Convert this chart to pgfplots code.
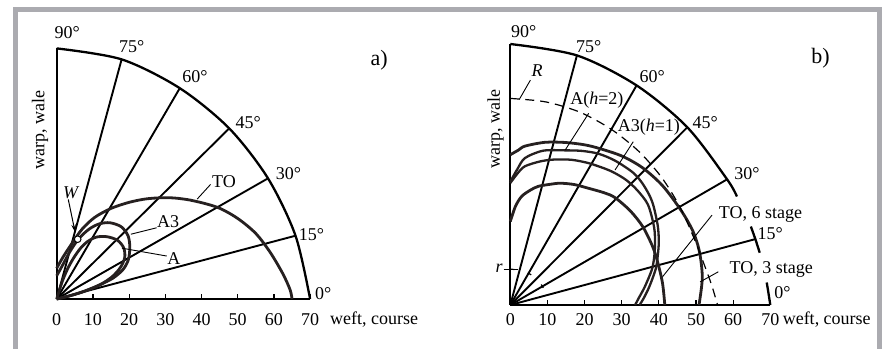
\documentclass[border=0pt]{standalone}
\usepackage{fontspec}
\setmainfont{Liberation Serif}
\usepackage{pgfplots}
\pgfplotsset{compat=1.18}
\usetikzlibrary{arrows.meta}
\definecolor{crv}{RGB}{38,32,32}
\definecolor{frm}{RGB}{171,171,176}
\newcommand\lbl{\fontsize{18bp}{21bp}\selectfont}
\newcommand\panlbl{\fontsize{22bp}{25bp}\selectfont}
\pgfplotsset{
  panel/.style={
    scale only axis, clip=false,
    xmin=0, xmax=70, ymin=0, ymax=70,
    axis lines=left,
    axis line style={-, line width=2bp, black},
    xtick={0,10,...,70}, ytick=\empty,
    tick align=inside, major tick length=5bp,
    x tick style={line width=1.2bp, black},
    xticklabel style={font=\lbl, anchor=base},
    /pgf/number format/assume math mode=true,
  },
  ray/.style={black, line width=1.9bp, no markers, data cs=polar},
  outerarc/.style={black, line width=2.3bp, no markers, smooth, data cs=polar},
  crvline/.style={crv, line width=2.8bp, no markers, smooth},
  lead/.style={black, line width=0.9bp, no markers},
  dsh/.style={black, line width=1.2bp, no markers, smooth, data cs=polar},
}
\begin{document}
\begin{tikzpicture}
\path[use as bounding box] (0,0) rectangle (884bp,349bp);
% ---------------- panel a ----------------
\begin{axis}[panel, at={(56.7bp,50bp)}, anchor=south west,
  width=253.4bp, height=250.6bp, xticklabel style={yshift=-26bp}]
\addplot[ray] coordinates {(15,0) (15,68.3)};
\addplot[ray] coordinates {(30,0) (30,67.4)};
\addplot[ray] coordinates {(45,0) (45,67.4)};
\addplot[ray] coordinates {(60,0) (60,68)};
\addplot[ray] coordinates {(75,0) (75,69.3)};
\addplot[outerarc] coordinates {(0,70) (15,68.3) (30,67.4) (45,67.4) (60,68) (75,69.3) (90,70)};
% TO
\addplot[crvline] coordinates {(0,8.6) (1.8,11.8) (4.2,15.5) (7,19.5) (10.5,22.8) (15,25.3) (20,27) (25,28) (31,28.3) (37,27.6) (44.4,25.6) (50,22.5) (55,18.3) (59,13) (62.5,7) (64.5,2.5) (65,0)};
% A3
\addplot[crvline] coordinates {(0,0) (4,1) (8,2.3) (12,4) (15.5,5.8) (18.3,8.2) (19.8,11) (20.2,14.5) (19.7,17.7) (17.8,20.2) (14.7,21.3) (11.8,21) (9.2,19.7) (7,17.8) (5.3,15.8) (3.4,12.8) (1.6,9.4) (0,6.5)};
% A
\addplot[crvline] coordinates {(0,0) (4,1) (8,2.3) (12,4) (15.3,6.2) (17.6,8.8) (18.8,11.6) (18.5,14.3) (16.8,16.4) (13.9,17.4) (11,17.3) (8.6,16.1) (6.6,14.2) (4.7,11.5) (3,8.4) (1.5,4.8) (0,0)};
\addplot[lead] coordinates {(42.5,32.0) (38.8,27.9)};
\addplot[lead] coordinates {(27.6,19.9) (20.5,18.1)};
\addplot[lead] coordinates {(30.4,12.0) (18.0,14.2)};
\addplot[black, line width=1bp, no markers, -{Stealth[length=8bp,width=4.5bp]}] coordinates {(3.2,27.8) (5.1,18.6)};
\addplot[only marks, mark=*, mark size=3.3bp, mark options={fill=white, draw=black, line width=1bp}] coordinates {(5.8,16.7)};
\node[font=\lbl] at (axis cs:2.9,74.5) {90°};
\node[font=\lbl] at (axis cs:20.7,70.5) {75°};
\node[font=\lbl] at (axis cs:38.2,62.1) {60°};
\node[font=\lbl] at (axis cs:52.9,49.2) {45°};
\node[font=\lbl] at (axis cs:64,34.9) {30°};
\node[font=\lbl] at (axis cs:70.4,17.9) {15°};
\node[font=\lbl] at (axis cs:73.6,1.6) {0°};
\node[font=\panlbl] at (axis cs:89.1,66.8) {a)};
\node[font=\lbl] at (axis cs:4.0,29.7) {\textit{W}};
\node[font=\lbl] at (axis cs:46.2,32.8) {TO};
\node[font=\lbl] at (axis cs:30.8,21.6) {A3};
\node[font=\lbl] at (axis cs:32.4,11.4) {A};
\node[font=\lbl, anchor=base west, inner sep=0pt] at (axis cs:75.5,-7.26) {weft, course};
\node[font=\lbl, rotate=90] at (axis cs:-4.6,47.2) {warp, wale};
\end{axis}
% ---------------- panel b ----------------
\begin{axis}[panel, at={(510.3bp,44bp)}, anchor=south west,
  width=260bp, height=261bp, xticklabel style={yshift=-20bp}]
\addplot[ray] coordinates {(15,0) (15,68.3)};
\addplot[ray] coordinates {(30,0) (30,67.4)};
\addplot[ray] coordinates {(45,0) (45,67.4)};
\addplot[ray] coordinates {(60,0) (60,68)};
\addplot[ray] coordinates {(75,0) (75,69.3)};
\addplot[outerarc] coordinates {(25.5,67.6) (30,67.4) (45,67.4) (60,68) (75,69.3) (90,70)};
\addplot[outerarc] coordinates {(11.8,68.6) (15,68.3) (18,68.1)};
\addplot[outerarc] coordinates {(0,70) (2.5,69.6) (5,69.3)};
% TO, 3 stage
\addplot[crvline, data cs=polar] coordinates {(90,40.3) (87,41.6) (84.7,42.8) (78,44.6) (71.4,46) (65,47.4) (60,48.4) (53,50) (46,51.2) (38,52) (29,52.5) (22,53) (15.7,52.9) (8,52.2) (0,50.8)};
% A(h=2)
\addplot[crvline, line width=2.3bp, data cs=polar] coordinates {(90,33.1) (87,36.5) (84.3,39.6) (78,42.3) (70.5,44) (65,45.6) (59.7,47) (53.9,47.9) (47,48.5) (42,48.2) (36,47.2) (28.4,45.1) (22.9,43.4) (18,41.7) (13.8,40.3) (7.6,37.8) (3,36) (0,34.8)};
% A3(h=1)
\addplot[crvline, line width=2.3bp, data cs=polar] coordinates {(90,32.7) (87,35.2) (84,37.4) (78,39.4) (73,40.8) (67,42.3) (61,43.5) (55,44.6) (51.6,45.2) (47,45.8) (42,46) (36,45.8) (28.4,44) (22.9,42.3) (18,40.7) (13.8,39.2) (7.6,36.5) (3,34.6) (0,33.6)};
% TO, 6 stage
\addplot[crvline, data cs=polar] coordinates {(90,22.4) (87,26.5) (84,29.3) (80,31.3) (76.7,32.7) (72,34) (67.7,35.3) (62,36.6) (56.2,37.7) (50,39.3) (45.6,40.3) (38,41) (30.4,41.4) (22,41.4) (15.7,41.3) (8,41.4) (0,41.6)};
% R and r
\addplot[dsh, dash pattern=on 9bp off 6bp] coordinates {(90,55.4) (80,55.3) (70,55) (60,54.4) (50,53.8) (40,53.2) (30,52.7) (20,52.6) (10,53.6) (5,54.6) (0,55.8)};
\addplot[dsh, dash pattern=on 4bp off 14bp] coordinates {(90,9.6) (70,9.8) (50,9.9) (30,10) (8,10.2)};
\addplot[lead] coordinates {(5.4,60.3) (2.4,55.1)};
\addplot[lead] coordinates {(21.1,51.4) (14.8,41.6)};
\addplot[lead] coordinates {(33.1,43.8) (28.2,36.2)};
\addplot[lead] coordinates {(54.3,24.1) (41.0,7.6)};
\addplot[lead] coordinates {(56,8.9) (51.1,6.2)};
\addplot[lead] coordinates {(-1.8,9.6) (2.2,9.6)};
\node[font=\lbl] at (axis cs:3.6,73.3) {90°};
\node[font=\lbl] at (axis cs:21.1,69.4) {75°};
\node[font=\lbl] at (axis cs:38.2,61.2) {60°};
\node[font=\lbl] at (axis cs:52.5,48.9) {45°};
\node[font=\lbl] at (axis cs:63.7,35.3) {30°};
\node[font=\lbl] at (axis cs:70,19.2) {15°};
\node[font=\lbl] at (axis cs:73.3,3.3) {0°};
\node[font=\panlbl] at (axis cs:83.5,66.1) {b)};
\node[font=\lbl] at (axis cs:7.2,62.8) {\textit{R}};
\node[font=\lbl] at (axis cs:23.3,55.0) {A(\textit{h}=2)};
\node[font=\lbl] at (axis cs:37.3,47.8) {A3(\textit{h}=1)};
\node[font=\lbl, anchor=west, inner sep=0pt] at (axis cs:56.1,24.4) {TO, 6 stage};
\node[font=\lbl, anchor=west, inner sep=0pt] at (axis cs:59,9.4) {TO, 3 stage};
\node[font=\lbl] at (axis cs:-3.0,9.8) {\textit{r}};
\node[font=\lbl, anchor=base west, inner sep=0pt] at (axis cs:73.3,-5.36) {weft, course};
\node[font=\lbl, rotate=90] at (axis cs:-4.0,47.1) {warp, wale};
\end{axis}
% gray frame
\draw[frm, line width=5bp, line join=miter] (15.5bp,-2bp) -- (15.5bp,339.5bp) -- (879.2bp,339.5bp) -- (879.2bp,-2bp);
\end{tikzpicture}
\end{document}
